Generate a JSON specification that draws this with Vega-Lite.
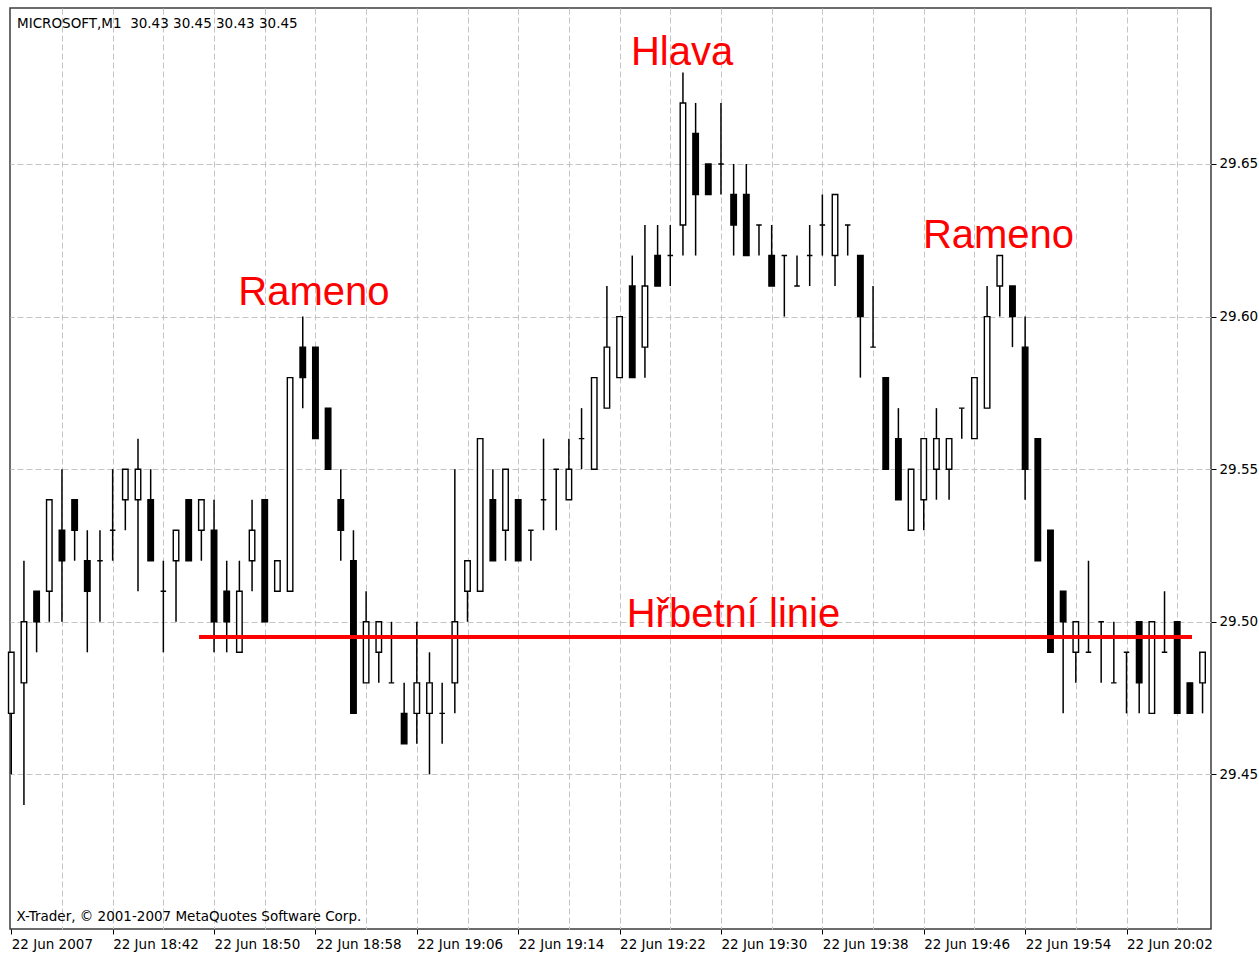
{
  "$schema": "https://vega.github.io/schema/vega-lite/v6.json",
  "width": 1201,
  "height": 921,
  "autosize": {"type": "none"},
  "padding": {"left": 10, "top": 8, "right": 48, "bottom": 25},
  "background": "white",
  "title": {
    "text": "MICROSOFT,M1\u00a0 30.43 30.45 30.43 30.45",
    "anchor": "start",
    "frame": "group",
    "offset": -19,
    "dx": 7,
    "dy": 14,
    "font": "DejaVu Sans",
    "fontSize": 13.5,
    "fontWeight": "normal",
    "color": "black",
    "baseline": "alphabetic"
  },
  "config": {
    "view": {"stroke": "#3c3c3c", "strokeWidth": 1.5},
    "font": "DejaVu Sans"
  },
  "resolve": {"axis": {"x": "independent", "y": "independent"}},
  "datasets": {
    "candles": [
      {"t": "2007-06-22T18:34", "o": 29.47, "h": 29.49, "l": 29.45, "c": 29.49},
      {"t": "2007-06-22T18:35", "o": 29.48, "h": 29.52, "l": 29.44, "c": 29.50},
      {"t": "2007-06-22T18:36", "o": 29.51, "h": 29.51, "l": 29.49, "c": 29.50},
      {"t": "2007-06-22T18:37", "o": 29.51, "h": 29.54, "l": 29.50, "c": 29.54},
      {"t": "2007-06-22T18:38", "o": 29.53, "h": 29.55, "l": 29.50, "c": 29.52},
      {"t": "2007-06-22T18:39", "o": 29.54, "h": 29.54, "l": 29.52, "c": 29.53},
      {"t": "2007-06-22T18:40", "o": 29.52, "h": 29.53, "l": 29.49, "c": 29.51},
      {"t": "2007-06-22T18:41", "o": 29.52, "h": 29.53, "l": 29.50, "c": 29.52},
      {"t": "2007-06-22T18:42", "o": 29.53, "h": 29.55, "l": 29.52, "c": 29.53},
      {"t": "2007-06-22T18:43", "o": 29.54, "h": 29.55, "l": 29.53, "c": 29.55},
      {"t": "2007-06-22T18:44", "o": 29.54, "h": 29.56, "l": 29.51, "c": 29.55},
      {"t": "2007-06-22T18:45", "o": 29.54, "h": 29.55, "l": 29.52, "c": 29.52},
      {"t": "2007-06-22T18:46", "o": 29.51, "h": 29.52, "l": 29.49, "c": 29.51},
      {"t": "2007-06-22T18:47", "o": 29.52, "h": 29.53, "l": 29.50, "c": 29.53},
      {"t": "2007-06-22T18:48", "o": 29.54, "h": 29.54, "l": 29.52, "c": 29.52},
      {"t": "2007-06-22T18:49", "o": 29.53, "h": 29.54, "l": 29.52, "c": 29.54},
      {"t": "2007-06-22T18:50", "o": 29.53, "h": 29.54, "l": 29.49, "c": 29.50},
      {"t": "2007-06-22T18:51", "o": 29.51, "h": 29.52, "l": 29.49, "c": 29.50},
      {"t": "2007-06-22T18:52", "o": 29.49, "h": 29.52, "l": 29.49, "c": 29.51},
      {"t": "2007-06-22T18:53", "o": 29.52, "h": 29.54, "l": 29.51, "c": 29.53},
      {"t": "2007-06-22T18:54", "o": 29.54, "h": 29.54, "l": 29.50, "c": 29.50},
      {"t": "2007-06-22T18:55", "o": 29.51, "h": 29.52, "l": 29.51, "c": 29.52},
      {"t": "2007-06-22T18:56", "o": 29.51, "h": 29.58, "l": 29.51, "c": 29.58},
      {"t": "2007-06-22T18:57", "o": 29.59, "h": 29.60, "l": 29.57, "c": 29.58},
      {"t": "2007-06-22T18:58", "o": 29.59, "h": 29.59, "l": 29.56, "c": 29.56},
      {"t": "2007-06-22T18:59", "o": 29.57, "h": 29.57, "l": 29.55, "c": 29.55},
      {"t": "2007-06-22T19:00", "o": 29.54, "h": 29.55, "l": 29.52, "c": 29.53},
      {"t": "2007-06-22T19:01", "o": 29.52, "h": 29.53, "l": 29.47, "c": 29.47},
      {"t": "2007-06-22T19:02", "o": 29.48, "h": 29.51, "l": 29.48, "c": 29.50},
      {"t": "2007-06-22T19:03", "o": 29.49, "h": 29.50, "l": 29.48, "c": 29.50},
      {"t": "2007-06-22T19:04", "o": 29.48, "h": 29.50, "l": 29.48, "c": 29.48},
      {"t": "2007-06-22T19:05", "o": 29.47, "h": 29.48, "l": 29.46, "c": 29.46},
      {"t": "2007-06-22T19:06", "o": 29.47, "h": 29.50, "l": 29.46, "c": 29.48},
      {"t": "2007-06-22T19:07", "o": 29.47, "h": 29.49, "l": 29.45, "c": 29.48},
      {"t": "2007-06-22T19:08", "o": 29.47, "h": 29.48, "l": 29.46, "c": 29.47},
      {"t": "2007-06-22T19:09", "o": 29.48, "h": 29.55, "l": 29.47, "c": 29.50},
      {"t": "2007-06-22T19:10", "o": 29.51, "h": 29.52, "l": 29.50, "c": 29.52},
      {"t": "2007-06-22T19:11", "o": 29.51, "h": 29.56, "l": 29.51, "c": 29.56},
      {"t": "2007-06-22T19:12", "o": 29.54, "h": 29.55, "l": 29.52, "c": 29.52},
      {"t": "2007-06-22T19:13", "o": 29.53, "h": 29.55, "l": 29.52, "c": 29.55},
      {"t": "2007-06-22T19:14", "o": 29.54, "h": 29.54, "l": 29.52, "c": 29.52},
      {"t": "2007-06-22T19:15", "o": 29.53, "h": 29.53, "l": 29.52, "c": 29.53},
      {"t": "2007-06-22T19:16", "o": 29.54, "h": 29.56, "l": 29.53, "c": 29.54},
      {"t": "2007-06-22T19:17", "o": 29.55, "h": 29.55, "l": 29.53, "c": 29.55},
      {"t": "2007-06-22T19:18", "o": 29.54, "h": 29.56, "l": 29.54, "c": 29.55},
      {"t": "2007-06-22T19:19", "o": 29.56, "h": 29.57, "l": 29.55, "c": 29.56},
      {"t": "2007-06-22T19:20", "o": 29.55, "h": 29.58, "l": 29.55, "c": 29.58},
      {"t": "2007-06-22T19:21", "o": 29.57, "h": 29.61, "l": 29.57, "c": 29.59},
      {"t": "2007-06-22T19:22", "o": 29.58, "h": 29.60, "l": 29.58, "c": 29.60},
      {"t": "2007-06-22T19:23", "o": 29.61, "h": 29.62, "l": 29.58, "c": 29.58},
      {"t": "2007-06-22T19:24", "o": 29.59, "h": 29.63, "l": 29.58, "c": 29.61},
      {"t": "2007-06-22T19:25", "o": 29.62, "h": 29.63, "l": 29.61, "c": 29.61},
      {"t": "2007-06-22T19:26", "o": 29.62, "h": 29.63, "l": 29.61, "c": 29.62},
      {"t": "2007-06-22T19:27", "o": 29.63, "h": 29.68, "l": 29.62, "c": 29.67},
      {"t": "2007-06-22T19:28", "o": 29.66, "h": 29.67, "l": 29.62, "c": 29.64},
      {"t": "2007-06-22T19:29", "o": 29.65, "h": 29.65, "l": 29.64, "c": 29.64},
      {"t": "2007-06-22T19:30", "o": 29.65, "h": 29.67, "l": 29.64, "c": 29.65},
      {"t": "2007-06-22T19:31", "o": 29.64, "h": 29.65, "l": 29.62, "c": 29.63},
      {"t": "2007-06-22T19:32", "o": 29.64, "h": 29.65, "l": 29.62, "c": 29.62},
      {"t": "2007-06-22T19:33", "o": 29.63, "h": 29.63, "l": 29.62, "c": 29.63},
      {"t": "2007-06-22T19:34", "o": 29.62, "h": 29.63, "l": 29.61, "c": 29.61},
      {"t": "2007-06-22T19:35", "o": 29.62, "h": 29.62, "l": 29.60, "c": 29.62},
      {"t": "2007-06-22T19:36", "o": 29.61, "h": 29.62, "l": 29.61, "c": 29.61},
      {"t": "2007-06-22T19:37", "o": 29.62, "h": 29.63, "l": 29.61, "c": 29.62},
      {"t": "2007-06-22T19:38", "o": 29.63, "h": 29.64, "l": 29.62, "c": 29.63},
      {"t": "2007-06-22T19:39", "o": 29.62, "h": 29.64, "l": 29.61, "c": 29.64},
      {"t": "2007-06-22T19:40", "o": 29.63, "h": 29.63, "l": 29.62, "c": 29.63},
      {"t": "2007-06-22T19:41", "o": 29.62, "h": 29.62, "l": 29.58, "c": 29.60},
      {"t": "2007-06-22T19:42", "o": 29.59, "h": 29.61, "l": 29.59, "c": 29.59},
      {"t": "2007-06-22T19:43", "o": 29.58, "h": 29.58, "l": 29.55, "c": 29.55},
      {"t": "2007-06-22T19:44", "o": 29.56, "h": 29.57, "l": 29.54, "c": 29.54},
      {"t": "2007-06-22T19:45", "o": 29.53, "h": 29.55, "l": 29.53, "c": 29.55},
      {"t": "2007-06-22T19:46", "o": 29.54, "h": 29.56, "l": 29.53, "c": 29.56},
      {"t": "2007-06-22T19:47", "o": 29.55, "h": 29.57, "l": 29.54, "c": 29.56},
      {"t": "2007-06-22T19:48", "o": 29.55, "h": 29.56, "l": 29.54, "c": 29.56},
      {"t": "2007-06-22T19:49", "o": 29.57, "h": 29.57, "l": 29.56, "c": 29.57},
      {"t": "2007-06-22T19:50", "o": 29.56, "h": 29.58, "l": 29.56, "c": 29.58},
      {"t": "2007-06-22T19:51", "o": 29.57, "h": 29.61, "l": 29.57, "c": 29.60},
      {"t": "2007-06-22T19:52", "o": 29.61, "h": 29.62, "l": 29.60, "c": 29.62},
      {"t": "2007-06-22T19:53", "o": 29.61, "h": 29.61, "l": 29.59, "c": 29.60},
      {"t": "2007-06-22T19:54", "o": 29.59, "h": 29.60, "l": 29.54, "c": 29.55},
      {"t": "2007-06-22T19:55", "o": 29.56, "h": 29.56, "l": 29.52, "c": 29.52},
      {"t": "2007-06-22T19:56", "o": 29.53, "h": 29.53, "l": 29.49, "c": 29.49},
      {"t": "2007-06-22T19:57", "o": 29.51, "h": 29.51, "l": 29.47, "c": 29.50},
      {"t": "2007-06-22T19:58", "o": 29.49, "h": 29.50, "l": 29.48, "c": 29.50},
      {"t": "2007-06-22T19:59", "o": 29.49, "h": 29.52, "l": 29.49, "c": 29.49},
      {"t": "2007-06-22T20:00", "o": 29.50, "h": 29.50, "l": 29.48, "c": 29.50},
      {"t": "2007-06-22T20:01", "o": 29.48, "h": 29.50, "l": 29.48, "c": 29.48},
      {"t": "2007-06-22T20:02", "o": 29.49, "h": 29.49, "l": 29.47, "c": 29.49},
      {"t": "2007-06-22T20:03", "o": 29.50, "h": 29.50, "l": 29.47, "c": 29.48},
      {"t": "2007-06-22T20:04", "o": 29.47, "h": 29.50, "l": 29.47, "c": 29.50},
      {"t": "2007-06-22T20:05", "o": 29.49, "h": 29.51, "l": 29.49, "c": 29.49},
      {"t": "2007-06-22T20:06", "o": 29.50, "h": 29.50, "l": 29.47, "c": 29.47},
      {"t": "2007-06-22T20:07", "o": 29.48, "h": 29.48, "l": 29.47, "c": 29.47},
      {"t": "2007-06-22T20:08", "o": 29.48, "h": 29.49, "l": 29.47, "c": 29.49}
    ],
    "neck": [
      {"from": "2007-06-22T18:48:49", "to": "2007-06-22T20:07:10", "p": 29.495}
    ],
    "notes": [
      {"label": "Rameno", "t": "2007-06-22T18:57:53", "p": 29.6039},
      {"label": "Hlava", "t": "2007-06-22T19:26:56", "p": 29.6824},
      {"label": "Rameno", "t": "2007-06-22T19:51:54", "p": 29.6225},
      {"label": "Hřbetní linie", "t": "2007-06-22T19:30:59", "p": 29.4984}
    ]
  },
  "layer": [
    {
      "data": {"name": "candles"},
      "mark": {"type": "rule", "color": "black", "strokeWidth": 1.5},
      "encoding": {
        "x": {
          "field": "t",
          "type": "temporal",
          "scale": {
            "nice": false,
            "padding": 0,
            "domain": [
              {"year": 2007, "month": 6, "date": 22, "hours": 18, "minutes": 33, "seconds": 54},
              {"year": 2007, "month": 6, "date": 22, "hours": 20, "minutes": 8, "seconds": 40}
            ]
          },
          "axis": {
            "orient": "bottom",
            "values": [
              {"year": 2007, "month": 6, "date": 22, "hours": 18, "minutes": 34},
              {"year": 2007, "month": 6, "date": 22, "hours": 18, "minutes": 38},
              {"year": 2007, "month": 6, "date": 22, "hours": 18, "minutes": 42},
              {"year": 2007, "month": 6, "date": 22, "hours": 18, "minutes": 46},
              {"year": 2007, "month": 6, "date": 22, "hours": 18, "minutes": 50},
              {"year": 2007, "month": 6, "date": 22, "hours": 18, "minutes": 54},
              {"year": 2007, "month": 6, "date": 22, "hours": 18, "minutes": 58},
              {"year": 2007, "month": 6, "date": 22, "hours": 19, "minutes": 2},
              {"year": 2007, "month": 6, "date": 22, "hours": 19, "minutes": 6},
              {"year": 2007, "month": 6, "date": 22, "hours": 19, "minutes": 10},
              {"year": 2007, "month": 6, "date": 22, "hours": 19, "minutes": 14},
              {"year": 2007, "month": 6, "date": 22, "hours": 19, "minutes": 18},
              {"year": 2007, "month": 6, "date": 22, "hours": 19, "minutes": 22},
              {"year": 2007, "month": 6, "date": 22, "hours": 19, "minutes": 26},
              {"year": 2007, "month": 6, "date": 22, "hours": 19, "minutes": 30},
              {"year": 2007, "month": 6, "date": 22, "hours": 19, "minutes": 34},
              {"year": 2007, "month": 6, "date": 22, "hours": 19, "minutes": 38},
              {"year": 2007, "month": 6, "date": 22, "hours": 19, "minutes": 42},
              {"year": 2007, "month": 6, "date": 22, "hours": 19, "minutes": 46},
              {"year": 2007, "month": 6, "date": 22, "hours": 19, "minutes": 50},
              {"year": 2007, "month": 6, "date": 22, "hours": 19, "minutes": 54},
              {"year": 2007, "month": 6, "date": 22, "hours": 19, "minutes": 58},
              {"year": 2007, "month": 6, "date": 22, "hours": 20, "minutes": 2},
              {"year": 2007, "month": 6, "date": 22, "hours": 20, "minutes": 6}
            ],
            "labelExpr": "round((time(datum.value) - time(datetime(2007,5,22,18,34))) / 60000) == 0 ? '22 Jun 2007' : (round((time(datum.value) - time(datetime(2007,5,22,18,34))) / 60000) % 8 == 0 ? timeFormat(datum.value, '%d %b %H:%M') : '')",
            "labelAlign": "left",
            "labelBaseline": "top",
            "labelPadding": 3,
            "labelFlush": false,
            "labelOverlap": false,
            "labelFont": "DejaVu Sans",
            "labelFontSize": 13.5,
            "labelColor": "black",
            "labelDx": -1,
            "tickSize": 5,
            "tickColor": "black",
            "tickWidth": 1,
            "tickOpacity": {
              "condition": {"test": "round((time(datum.value) - time(datetime(2007,5,22,18,34))) / 60000) % 8 == 0", "value": 1},
              "value": 0
            },
            "grid": true,
            "gridColor": "#c4c4c4",
            "gridDash": [6, 3],
            "gridWidth": 1,
            "gridOpacity": {
              "condition": {"test": "round((time(datum.value) - time(datetime(2007,5,22,18,34))) / 60000) == 0", "value": 0},
              "value": 1
            },
            "domain": false,
            "title": "X-Trader, © 2001-2007 MetaQuotes Software Corp.",
            "titleX": 6,
            "titleY": -9,
            "titleAlign": "left",
            "titleAnchor": "start",
            "titleBaseline": "alphabetic",
            "titleFont": "DejaVu Sans",
            "titleFontSize": 13.5,
            "titleFontWeight": "normal",
            "titleColor": "black"
          }
        },
        "y": {
          "field": "l",
          "type": "quantitative",
          "scale": {"domain": [29.39934, 29.70111], "nice": false, "zero": false, "padding": 0},
          "axis": {
            "orient": "right",
            "values": [29.45, 29.5, 29.55, 29.6, 29.65],
            "format": ".2f",
            "grid": true,
            "gridColor": "#c4c4c4",
            "gridDash": [6, 3],
            "gridWidth": 1,
            "tickSize": 5,
            "tickColor": "black",
            "labelPadding": 3,
            "labelFont": "DejaVu Sans",
            "labelFontSize": 13.5,
            "labelColor": "black",
            "domain": false,
            "title": null
          }
        },
        "y2": {"field": "h"}
      }
    },
    {
      "data": {"name": "candles"},
      "mark": {"type": "bar", "size": 5.5, "stroke": "black", "strokeWidth": 1.4},
      "encoding": {
        "x": {"field": "t", "type": "temporal", "axis": null},
        "y": {"field": "o", "type": "quantitative", "axis": null},
        "y2": {"field": "c"},
        "fill": {"condition": {"test": "datum.c < datum.o", "value": "black"}, "value": "white"}
      }
    },
    {
      "data": {"name": "neck"},
      "mark": {"type": "rule", "color": "#ff0000", "strokeWidth": 4},
      "encoding": {
        "x": {"field": "from", "type": "temporal", "axis": null},
        "x2": {"field": "to"},
        "y": {"field": "p", "type": "quantitative", "axis": null}
      }
    },
    {
      "data": {"name": "notes"},
      "mark": {"type": "text", "font": "Liberation Sans", "fontSize": 40, "color": "#ff0000", "align": "center", "baseline": "alphabetic"},
      "encoding": {
        "x": {"field": "t", "type": "temporal", "axis": null},
        "y": {"field": "p", "type": "quantitative", "axis": null},
        "text": {"field": "label"}
      }
    }
  ]
}
